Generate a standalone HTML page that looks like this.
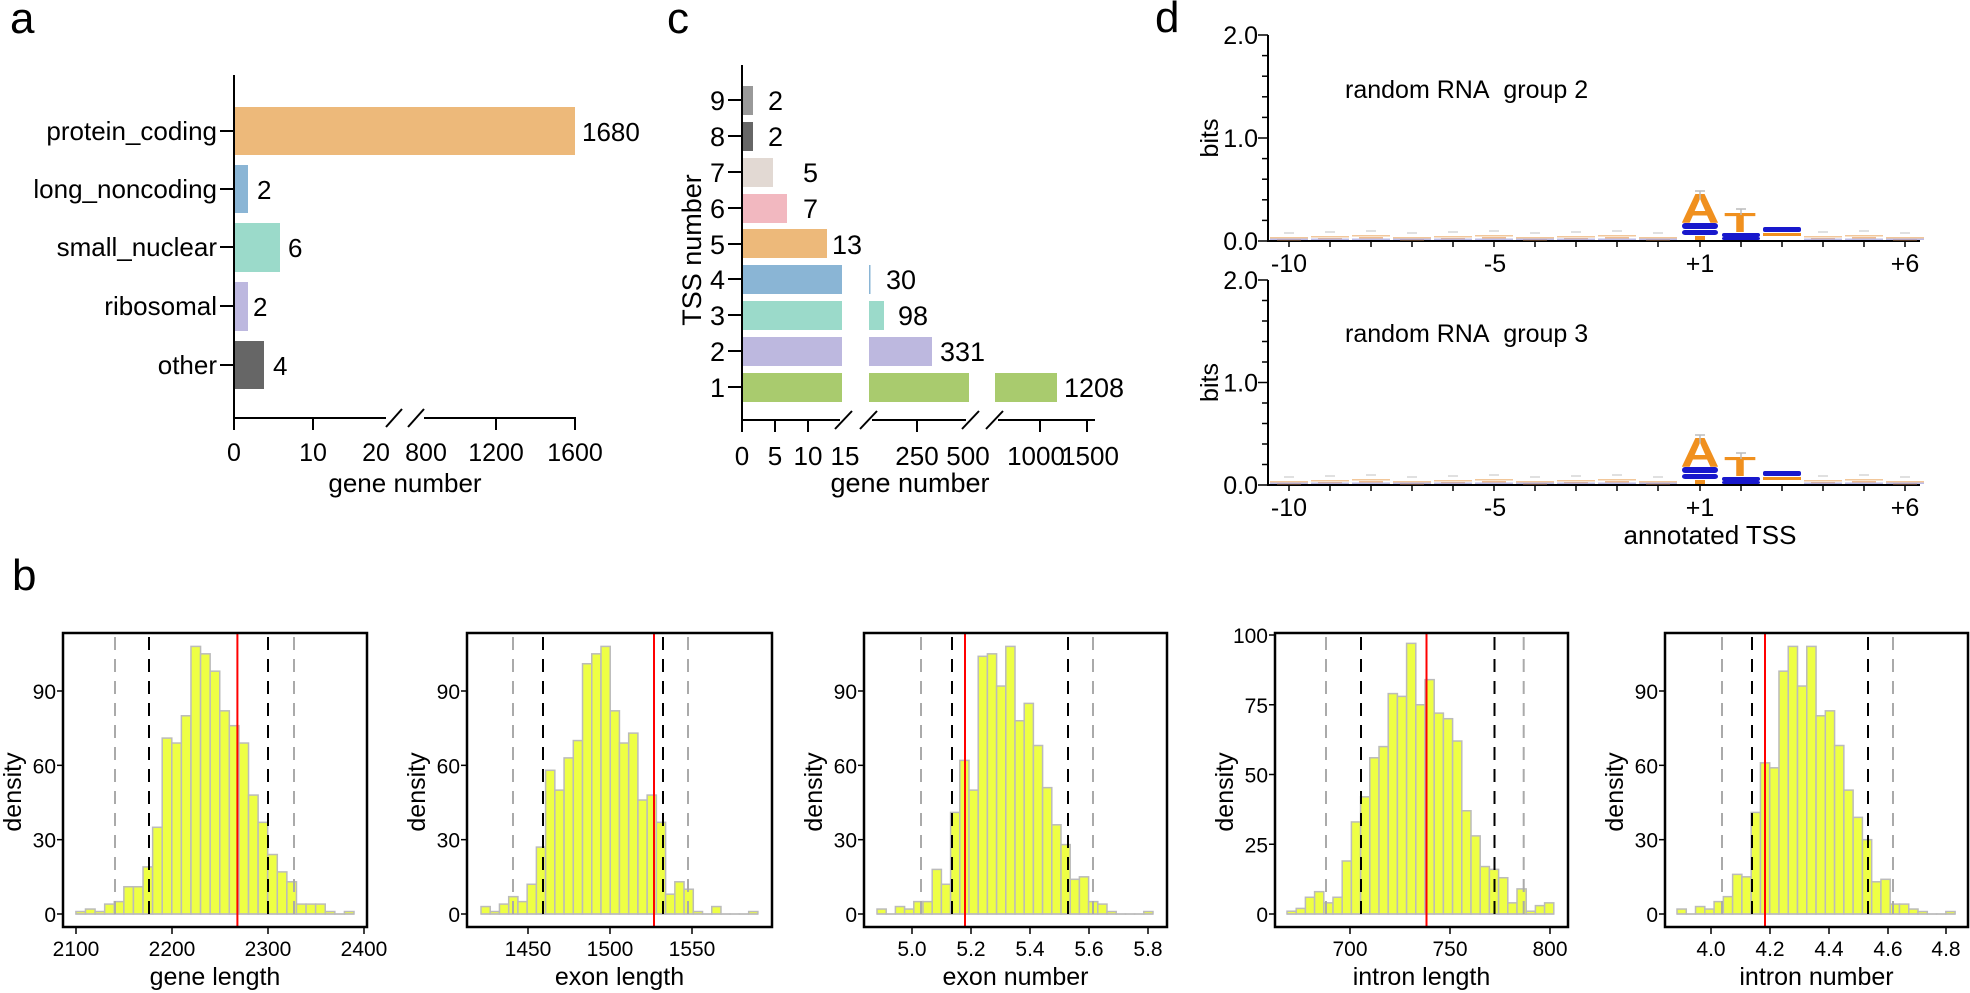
<!DOCTYPE html>
<html><head><meta charset="utf-8"><style>
html,body{margin:0;padding:0;background:#fff;}
svg{display:block;font-family:"Liberation Sans",Arial,sans-serif;}
</style></head><body>
<svg id="s" width="1970" height="993" viewBox="0 0 1970 993" xmlns="http://www.w3.org/2000/svg">
<rect width="1970" height="993" fill="#fff"/>
<text x="10" y="33" font-size="44">a</text>
<text x="12" y="590" font-size="44">b</text>
<text x="667" y="33" font-size="44">c</text>
<text x="1155" y="32" font-size="44">d</text>

<g>
<rect x="234" y="107" width="341" height="48" fill="#EDB97A"/>
<rect x="234" y="165" width="14" height="48" fill="#8AB5D5"/>
<rect x="234" y="223" width="46" height="49" fill="#9BDACA"/>
<rect x="234" y="282" width="14" height="49" fill="#BDB8DF"/>
<rect x="234" y="341" width="30" height="48" fill="#666666"/>
<g stroke="#000" stroke-width="2" fill="none">
<line x1="234" y1="75" x2="234" y2="419"/>
<line x1="233" y1="418" x2="386" y2="418"/>
<line x1="424" y1="418" x2="576" y2="418"/>
<line x1="386" y1="427" x2="402" y2="409"/>
<line x1="408" y1="427" x2="424" y2="409"/>
<line x1="234" y1="418" x2="234" y2="430"/>
<line x1="313" y1="418" x2="313" y2="430"/>
<line x1="496" y1="418" x2="496" y2="430"/>
<line x1="575" y1="418" x2="575" y2="430"/>
<line x1="220" y1="131" x2="234" y2="131"/>
<line x1="220" y1="189" x2="234" y2="189"/>
<line x1="220" y1="247" x2="234" y2="247"/>
<line x1="220" y1="306" x2="234" y2="306"/>
<line x1="220" y1="365" x2="234" y2="365"/>
</g>
<g font-size="26" text-anchor="end">
<text x="217" y="140">protein_coding</text>
<text x="217" y="198">long_noncoding</text>
<text x="217" y="256">small_nuclear</text>
<text x="217" y="315">ribosomal</text>
<text x="217" y="374">other</text>
</g>
<g font-size="26">
<text x="582" y="141">1680</text>
<text x="257" y="199">2</text>
<text x="288" y="257">6</text>
<text x="253" y="316">2</text>
<text x="273" y="375">4</text>
</g>
<g font-size="25" text-anchor="middle">
<text x="234" y="461">0</text>
<text x="313" y="461">10</text>
<text x="376" y="461">20</text>
<text x="426" y="461">800</text>
<text x="496" y="461">1200</text>
<text x="575" y="461">1600</text>
<text x="405" y="492" font-size="26">gene number</text>
</g>
</g>

<g>
<g>
<rect x="743" y="86" width="10" height="29" fill="#999999"/>
<rect x="743" y="122" width="10" height="29" fill="#666666"/>
<rect x="743" y="158" width="30" height="29" fill="#E2D9D3"/>
<rect x="743" y="194" width="44" height="29" fill="#F2B8C0"/>
<rect x="743" y="229" width="84" height="29" fill="#EDB97A"/>
<rect x="743" y="265" width="99" height="29" fill="#8AB5D5"/>
<rect x="869" y="265" width="1.5" height="29" fill="#8AB5D5"/>
<rect x="743" y="301" width="99" height="29" fill="#9BDACA"/>
<rect x="869" y="301" width="15" height="29" fill="#9BDACA"/>
<rect x="743" y="337" width="99" height="29" fill="#BDB8DF"/>
<rect x="869" y="337" width="63" height="29" fill="#BDB8DF"/>
<rect x="743" y="373" width="99" height="29" fill="#A9CB6E"/>
<rect x="869" y="373" width="100" height="29" fill="#A9CB6E"/>
<rect x="995" y="373" width="62" height="29" fill="#A9CB6E"/>
</g>
<g stroke="#000" stroke-width="2" fill="none">
<line x1="742" y1="65" x2="742" y2="421"/>
<line x1="741" y1="420" x2="840" y2="420"/>
<line x1="872" y1="420" x2="966" y2="420"/>
<line x1="998" y1="420" x2="1095" y2="420"/>
<line x1="835" y1="429" x2="852" y2="411"/>
<line x1="860" y1="429" x2="877" y2="411"/>
<line x1="962" y1="429" x2="979" y2="411"/>
<line x1="986" y1="429" x2="1003" y2="411"/>
<line x1="742" y1="420" x2="742" y2="432"/>
<line x1="775" y1="420" x2="775" y2="432"/>
<line x1="808" y1="420" x2="808" y2="432"/>
<line x1="917" y1="420" x2="917" y2="432"/>
<line x1="1040" y1="420" x2="1040" y2="432"/>
<line x1="1087" y1="420" x2="1087" y2="432"/>
<line x1="728" y1="100" x2="742" y2="100"/>
<line x1="728" y1="136" x2="742" y2="136"/>
<line x1="728" y1="172" x2="742" y2="172"/>
<line x1="728" y1="208" x2="742" y2="208"/>
<line x1="728" y1="244" x2="742" y2="244"/>
<line x1="728" y1="279" x2="742" y2="279"/>
<line x1="728" y1="315" x2="742" y2="315"/>
<line x1="728" y1="351" x2="742" y2="351"/>
<line x1="728" y1="387" x2="742" y2="387"/>
</g>
<g font-size="27" text-anchor="end">
<text x="725" y="110">9</text><text x="725" y="146">8</text><text x="725" y="182">7</text>
<text x="725" y="218">6</text><text x="725" y="254">5</text><text x="725" y="289">4</text>
<text x="725" y="325">3</text><text x="725" y="361">2</text><text x="725" y="397">1</text>
</g>
<text transform="translate(701,250) rotate(-90)" font-size="27" text-anchor="middle">TSS number</text>
<g font-size="27">
<text x="768" y="110">2</text><text x="768" y="146">2</text><text x="803" y="182">5</text>
<text x="803" y="218">7</text><text x="832" y="254">13</text><text x="886" y="289">30</text>
<text x="898" y="325">98</text><text x="940" y="361">331</text><text x="1064" y="397">1208</text>
</g>
<g font-size="26" text-anchor="middle">
<text x="742" y="465">0</text><text x="775" y="465">5</text><text x="808" y="465">10</text>
<text x="845" y="465">15</text><text x="917" y="465">250</text><text x="968" y="465">500</text>
<text x="1036" y="465">1000</text><text x="1090" y="465">1500</text>
<text x="910" y="492" font-size="27">gene number</text>
</g>
</g>

<g id="logo"></g>
<g id="hists"></g>
</svg>
<script>
var NS="http://www.w3.org/2000/svg";
function el(p,t,a,txt){var e=document.createElementNS(NS,t);for(var k in a)e.setAttribute(k,a[k]);if(txt!==undefined)e.textContent=txt;p.appendChild(e);return e;}
var L=document.getElementById('logo');
function logo(top,zero,title,titleY){
  var ax=1268, per=(zero-top)/10;
  el(L,'line',{x1:ax,y1:top,x2:ax,y2:zero+1,stroke:'#000','stroke-width':2});
  el(L,'line',{x1:ax,y1:zero,x2:1920,y2:zero,stroke:'#000','stroke-width':2});
  for(var i=0;i<=10;i++){var y=zero-i*per;var len=(i%5==0)?10:6;
    el(L,'line',{x1:ax-len,y1:y,x2:ax,y2:y,stroke:'#000','stroke-width':1.5});}
  el(L,'text',{x:ax-10,y:top+9,'font-size':25,'text-anchor':'end'},'2.0');
  el(L,'text',{x:ax-10,y:top+5*per+9,'font-size':25,'text-anchor':'end'},'1.0');
  el(L,'text',{x:ax-10,y:zero+9,'font-size':25,'text-anchor':'end'},'0.0');
  el(L,'text',{transform:'translate(1218,'+(top+5*per)+') rotate(-90)','font-size':25,'text-anchor':'middle'},'bits');
  var xs=[];for(var i=0;i<10;i++)xs.push(1289+41*i);for(var j=0;j<6;j++)xs.push(1700+41*j);
  xs.forEach(function(x,k){
    el(L,'line',{x1:x,y1:zero,x2:x,y2:zero+6,stroke:'#000','stroke-width':1.5});
    if(k!=10&&k!=11&&k!=12){
      var h=3+((k*7)%3);
      el(L,'rect',{x:x-19,y:zero-h-1,width:38,height:1.5,fill:'#F2C79A'});
      el(L,'rect',{x:x-12,y:zero-h+1,width:24,height:1.5,fill:'#E8A060',opacity:0.7});
      el(L,'rect',{x:x-19,y:zero-2.5,width:38,height:1.5,fill:'#A0A0E0',opacity:0.7});
      el(L,'line',{x1:x-5,y1:zero-h-5,x2:x+5,y2:zero-h-5,stroke:'#ccc','stroke-width':1.2});
    }
  });
  var labs=[['-10',1289],['-5',1495],['+1',1700],['+6',1905]];
  labs.forEach(function(l){el(L,'text',{x:l[1],y:zero+31,'font-size':25,'text-anchor':'middle'},l[0]);});
  el(L,'text',{x:1345,y:titleY,'font-size':25},title);
  el(L,'text',{x:0,y:0,'font-size':40,'font-weight':'bold',fill:'#F0901E','text-anchor':'middle',transform:'translate(1700,'+(zero-18)+') scale(1.35,1.05)'},'A');
  el(L,'text',{x:0,y:0,'font-size':40,'font-weight':'bold',fill:'#F0901E','text-anchor':'middle',transform:'translate(1740,'+(zero-9)+') scale(1.3,0.7)'},'T');
  el(L,'rect',{x:1682,y:zero-18,width:36,height:6,fill:'#1818CC',rx:3});
  el(L,'rect',{x:1682,y:zero-11,width:36,height:5,fill:'#1818CC',rx:3});
  el(L,'rect',{x:1695,y:zero-5,width:10,height:4,fill:'#F0901E'});
  el(L,'rect',{x:1722,y:zero-8,width:38,height:4,fill:'#1818CC',rx:2});
  el(L,'rect',{x:1722,y:zero-4,width:38,height:3,fill:'#1818CC',rx:2});
  el(L,'rect',{x:1763,y:zero-14,width:38,height:5,fill:'#1818CC',rx:2});
  el(L,'rect',{x:1763,y:zero-8,width:38,height:3,fill:'#F0901E'});
  el(L,'line',{x1:1695,y1:zero-50,x2:1705,y2:zero-50,stroke:'#bbb','stroke-width':1.5});
  el(L,'line',{x1:1700,y1:zero-50,x2:1700,y2:zero-42,stroke:'#bbb','stroke-width':1.5});
  el(L,'line',{x1:1736,y1:zero-32,x2:1746,y2:zero-32,stroke:'#bbb','stroke-width':1.5});
  el(L,'line',{x1:1741,y1:zero-32,x2:1741,y2:zero-26,stroke:'#bbb','stroke-width':1.5});
}
logo(35,241,'random RNA\u00a0\u00a0group 2', 98);
logo(280,485,'random RNA\u00a0\u00a0group 3', 342);
el(L,'text',{x:1710,y:544,'font-size':26,'text-anchor':'middle'},'annotated TSS');

var H=document.getElementById('hists');
function hist(o){
  var top=633,bot=927,zero=914;
  o.h.forEach(function(v,i){var x=o.x0+i*o.bw;var hh=v*o.sc;
    el(H,'rect',{x:x,y:zero-hh,width:o.bw,height:Math.max(hh,0.01),fill:'#EEFF44',stroke:'#BBBBBB','stroke-width':1.5});});
  el(H,'line',{x1:o.x0,y1:zero,x2:o.x0+o.h.length*o.bw,y2:zero,stroke:'#BBBBBB','stroke-width':1.5});
  o.lines.forEach(function(l){
    if(l[1]=='red') el(H,'line',{x1:l[0],y1:top,x2:l[0],y2:bot,stroke:'#FF0000','stroke-width':2});
    else el(H,'line',{x1:l[0],y1:top+4,x2:l[0],y2:zero,stroke:l[1],'stroke-width':2,'stroke-dasharray':'13,9'});
  });
  el(H,'rect',{x:o.l,y:top,width:o.r-o.l,height:bot-top,fill:'none',stroke:'#000','stroke-width':2.5});
  o.yt.forEach(function(v){var y=zero-v*o.sc;
    el(H,'line',{x1:o.l-6,y1:y,x2:o.l,y2:y,stroke:'#000','stroke-width':1.5});
    el(H,'text',{x:o.l-7,y:y+8,'font-size':21,'text-anchor':'end'},String(v));});
  o.xt.forEach(function(t){
    el(H,'line',{x1:t[1],y1:bot,x2:t[1],y2:bot+7,stroke:'#000','stroke-width':1.5});
    el(H,'text',{x:t[1],y:956,'font-size':21,'text-anchor':'middle'},t[0]);});
  el(H,'text',{transform:'translate('+(o.l-42)+',792) rotate(-90)','font-size':25,'text-anchor':'middle'},'density');
  el(H,'text',{x:(o.l+o.r)/2,y:985,'font-size':25,'text-anchor':'middle'},o.xl);
}
var sc=(914-691)/90;
hist({l:63,r:367,x0:75.9,bw:9.59,sc:sc,yt:[0,30,60,90],
 h:[1,2,1,4,5,11,11,19,35,71,69,80,108,105,98,82,76,69,48,37,24,17,13,4,4,4,1,0,1],
 xt:[['2100',76],['2200',172],['2300',268],['2400',364]],
 lines:[[115,'#AAAAAA'],[149,'#000'],[237.4,'red'],[268,'#000'],[294,'#AAAAAA']],xl:'gene length'});
hist({l:467,r:772,x0:481,bw:9.23,sc:sc,yt:[0,30,60,90],
 h:[3,1,4,7,5,12,27,58,50,63,70,101,105,108,82,69,73,46,48,37,8,13,10,1,0,3,0,0,0,1],
 xt:[['1450',528],['1500',610],['1550',692]],
 lines:[[513,'#AAAAAA'],[543,'#000'],[654,'red'],[663,'#000'],[688,'#AAAAAA']],xl:'exon length'});
hist({l:864,r:1167,x0:877,bw:9.2,sc:sc,yt:[0,30,60,90],
 h:[2,0,3,2,5,5,18,12,41,62,50,104,105,92,108,78,85,68,51,36,28,14,15,5,4,1,0,0,0,1],
 xt:[['5.0',912],['5.2',971],['5.4',1030],['5.6',1089],['5.8',1148]],
 lines:[[921,'#AAAAAA'],[952,'#000'],[965,'red'],[1068,'#000'],[1093,'#AAAAAA']],xl:'exon number'});
hist({l:1275,r:1568,x0:1287,bw:9.2,sc:(914-635)/100,yt:[0,25,50,75,100],
 h:[1,2,6,8,4,6,19,33,42,56,60,79,78,97,75,84,72,70,62,37,28,17,16,13,4,9,1,3,4],
 xt:[['700',1350],['750',1450],['800',1550]],
 lines:[[1326,'#AAAAAA'],[1361,'#000'],[1426.5,'red'],[1494.5,'#000'],[1523.7,'#AAAAAA']],xl:'intron length'});
hist({l:1665,r:1968,x0:1677,bw:9.27,sc:sc,yt:[0,30,60,90],
 h:[2,0,3,2,5,7,16,15,41,61,59,98,108,92,108,80,82,68,50,39,30,13,14,4,4,2,1,0,0,1],
 xt:[['4.0',1711],['4.2',1770],['4.4',1829],['4.6',1888],['4.8',1946]],
 lines:[[1722,'#AAAAAA'],[1752,'#000'],[1765,'red'],[1868,'#000'],[1893,'#AAAAAA']],xl:'intron number'});
</script>
</body></html>
